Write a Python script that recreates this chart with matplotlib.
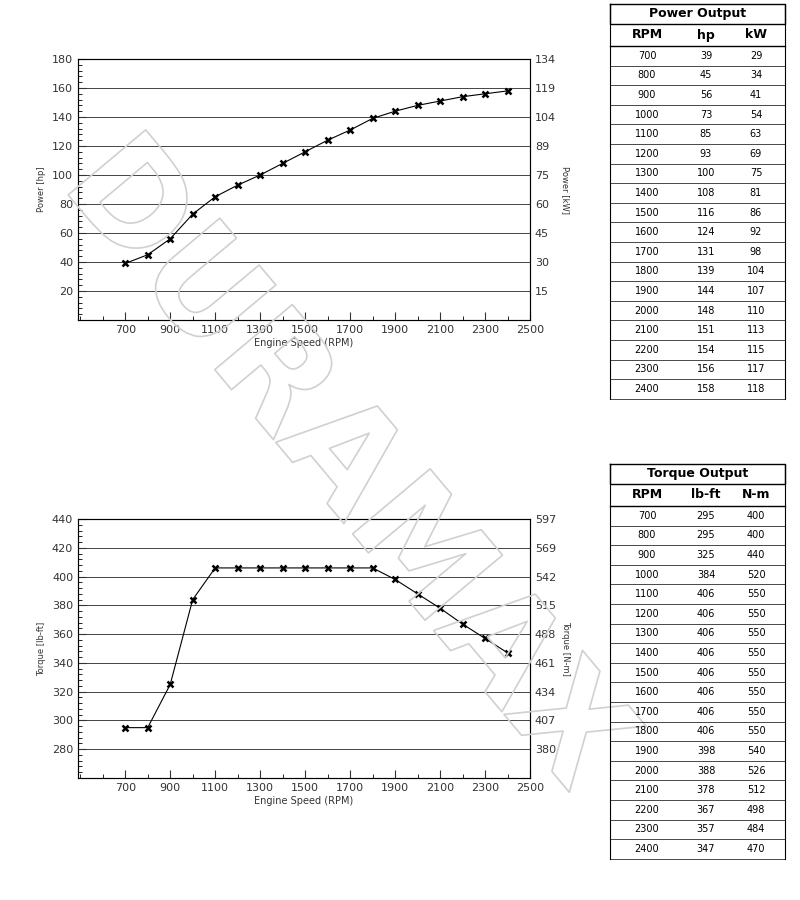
import matplotlib
matplotlib.use("Agg")
import matplotlib.pyplot as plt
import matplotlib.patheffects as pe
from matplotlib.ticker import MultipleLocator, FixedLocator

rpm = [700,800,900,1000,1100,1200,1300,1400,1500,1600,1700,1800,1900,2000,2100,2200,2300,2400]
hp = [39,45,56,73,85,93,100,108,116,124,131,139,144,148,151,154,156,158]
kw = [29,34,41,54,63,69,75,81,86,92,98,104,107,110,113,115,117,118]
lbft = [295,295,325,384,406,406,406,406,406,406,406,406,398,388,378,367,357,347]
nm = [400,400,440,520,550,550,550,550,550,550,550,550,540,526,512,498,484,470]
hp_ticks = [20,40,60,80,100,120,140,160,180]
kw_labels = ["15","30","45","60","75","89","104","119","134"]
tq_ticks = [280,300,320,340,360,380,400,420,440]
nm_labels = ["380","407","434","461","488","515","542","569","597"]
x_ticks = [700,900,1100,1300,1500,1700,1900,2100,2300,2500]

W, H = 800, 900
fig = plt.figure(figsize=(8, 9), dpi=100)

def axes_px(l, t, r, b):
    return fig.add_axes([l/W, 1-b/H, (r-l)/W, (b-t)/H])

def chart(box, y, yl, ticks, rlabels, ylabel, rylabel):
    ax = axes_px(*box)
    ax.plot(rpm, y, color="black", lw=0.8, marker="x", ms=5, mew=1.8)
    ax.set_xlim(490, 2500)
    ax.set_ylim(*yl)
    ax.xaxis.set_major_locator(FixedLocator(x_ticks))
    ax.xaxis.set_minor_locator(MultipleLocator(100))
    ax.yaxis.set_major_locator(FixedLocator(ticks))
    ax.yaxis.set_minor_locator(MultipleLocator(4))
    ax.grid(axis="y", color="#444444", lw=0.7)
    ax.tick_params(labelsize=8, colors="#333333", direction="in", length=6, right=True)
    ax.tick_params(which="minor", direction="in", length=3, right=True)
    ax.set_xlabel("Engine Speed (RPM)", fontsize=7, labelpad=2, color="#333333")
    ax.set_ylabel(ylabel, fontsize=6, color="#333333")
    for s in ax.spines.values():
        s.set_color("#555555")
    ax2 = ax.twinx()
    ax2.set_ylim(*yl)
    ax2.set_yticks(ticks)
    ax2.set_yticklabels(rlabels)
    ax2.tick_params(labelsize=8, colors="#333333", length=0)
    ax2.set_ylabel(rylabel, fontsize=6, color="#333333", rotation=-90, labelpad=10)
    return ax

chart((78, 59, 530, 320), hp, (0, 180), hp_ticks, kw_labels, "Power [hp]", "Power [kW]")
chart((78, 519, 530, 778), lbft, (260, 440), tq_ticks, nm_labels, "Torque [lb-ft]", "Torque [N-m]")

ov2 = fig.add_axes([0, 0, 1, 1])
ov2.set_xlim(0, W); ov2.set_ylim(H, 0); ov2.axis("off")

ov2.text(345, 465, "DURAMAX", fontsize=100, rotation=-50, ha="center", va="center",
         color=(1, 1, 1, 0), fontweight="bold",
         path_effects=[pe.Stroke(linewidth=1.2, foreground="#d0d0d0")], zorder=0.5)

def table(top, title, heads, c1, c2, c3):
    x0, x3 = 610, 785
    rh = 19.6
    n = len(c1)
    bot = top + 42 + n*rh
    ov2.plot([x0, x3, x3, x0, x0], [top, top, top+20, top+20, top], color="black", lw=1)
    ov2.text((x0+x3)/2, top+10, title, ha="center", va="center", fontsize=9, fontweight="bold")
    for i, h in enumerate(heads):
        ov2.text([647, 706, 756][i], top+31, h, ha="center", va="center", fontsize=9, fontweight="bold")
    ov2.plot([x0, x3], [top+42, top+42], color="black", lw=1)
    ov2.plot([x0, x0], [top, bot], color="black", lw=0.8)
    ov2.plot([x3, x3], [top, bot], color="black", lw=0.8)
    for i in range(n):
        y = top + 42 + i*rh
        ov2.text(647, y+rh/2, str(c1[i]), ha="center", va="center", fontsize=7)
        ov2.text(706, y+rh/2, str(c2[i]), ha="center", va="center", fontsize=7)
        ov2.text(756, y+rh/2, str(c3[i]), ha="center", va="center", fontsize=7)
        ov2.plot([x0, x3], [y+rh, y+rh], color="black", lw=0.5)

table(4, "Power Output", ["RPM", "hp", "kW"], rpm, hp, kw)
table(464, "Torque Output", ["RPM", "lb-ft", "N-m"], rpm, lbft, nm)

fig.savefig("out.png", dpi=100)
